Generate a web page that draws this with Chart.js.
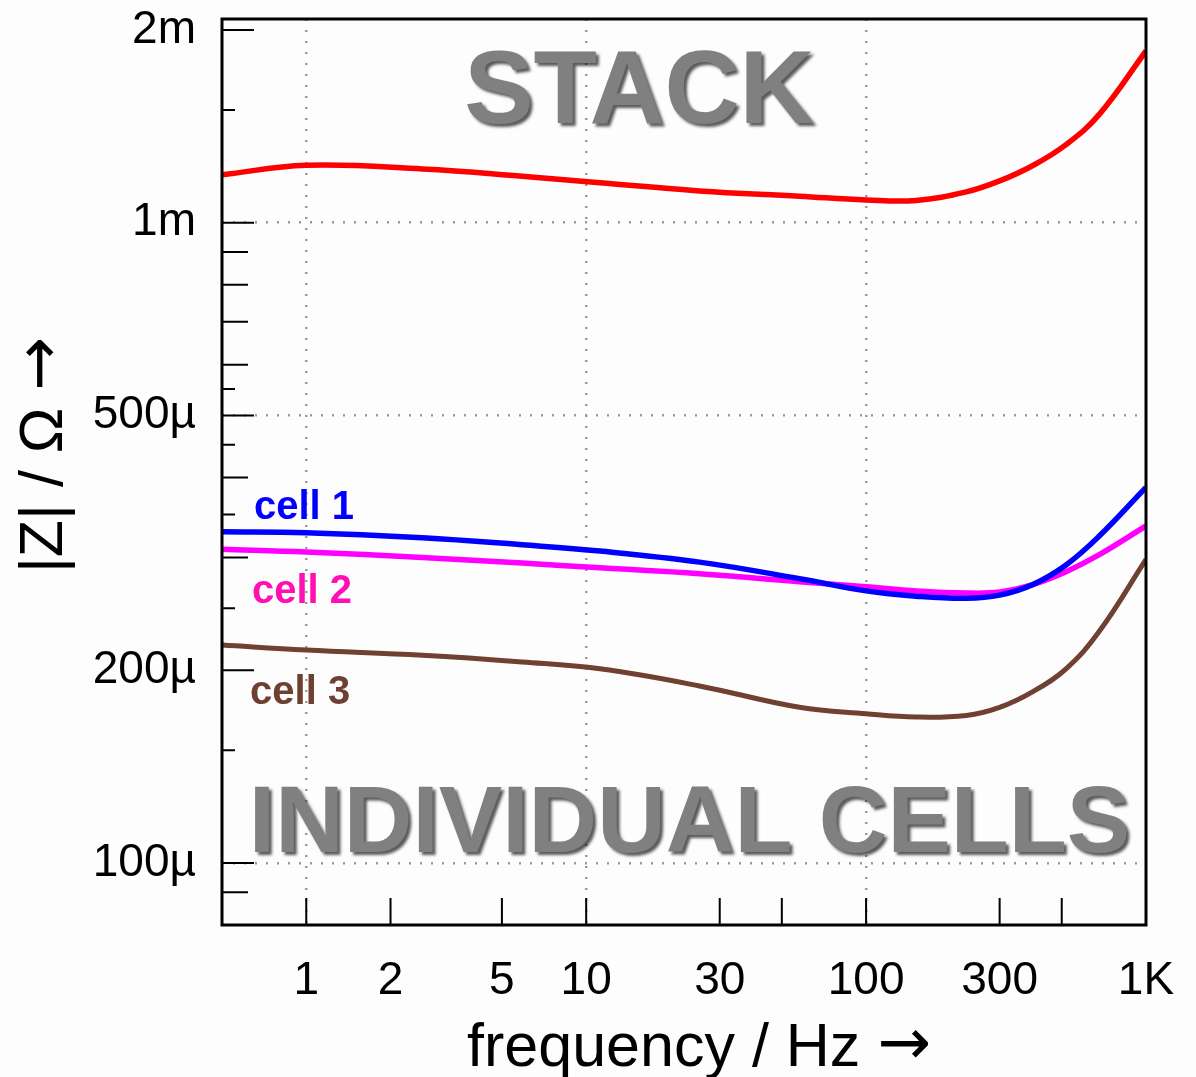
<!DOCTYPE html>
<html>
<head>
<meta charset="utf-8">
<script src="https://cdn.jsdelivr.net/npm/chart.js@4.4.1/dist/chart.umd.min.js"></script>
<style>
  html, body { margin: 0; padding: 0; background: #fdfdfd; }
  #wrap { width: 1196px; height: 1077px; position: relative; }
</style>
</head>
<body>
<div id="wrap"><canvas id="zChart"></canvas></div>
<script>
// frequencies (Hz) where the curves were read
const freqs = [0.5, 1, 2.6, 5.9, 11.2, 25.4, 57.8, 100, 151, 228, 300, 393, 518, 681, 1000]
// |Z| in ohm
const stack = [1.188e-3, 1.229e-3, 1.213e-3, 1.182e-3, 1.154e-3, 1.121e-3, 1.100e-3, 1.085e-3, 1.083e-3, 1.117e-3, 1.162e-3, 1.227e-3, 1.324e-3, 1.476e-3, 1.854e-3]
const cell1 = [329e-6, 328e-6, 322e-6, 314e-6, 307e-6, 295e-6, 278e-6, 266e-6, 261e-6, 259e-6, 262e-6, 272e-6, 292e-6, 324e-6, 386e-6]
const cell2 = [309e-6, 306e-6, 300e-6, 294e-6, 289e-6, 283e-6, 275e-6, 270e-6, 266e-6, 264e-6, 265e-6, 272e-6, 285e-6, 303e-6, 336e-6]
const cell3 = [219e-6, 215e-6, 211e-6, 206e-6, 201e-6, 189e-6, 175e-6, 171e-6, 169e-6, 170e-6, 175e-6, 185e-6, 201e-6, 230e-6, 298e-6]

// axis ticks
const xTicks = [1, 2, 5, 10, 30, 100, 300, 1000]
const xMarks = [1, 2, 5, 10, 30, 50, 100, 300, 500]
const xGrid = [1, 10, 100]
const yTicks = [2e-3, 1e-3, 5e-4, 2e-4, 1e-4]
const yMedium = [9e-4, 8e-4, 7e-4, 6e-4, 4e-4, 3e-4, 9e-5]
const yShort = [1.5e-3, 5.5e-4, 4.5e-4, 3.5e-4, 2.5e-4, 1.5e-4]
const yGrid = [1e-3, 5e-4, 1e-4]

const FONT = '"Liberation Sans", Arial, sans-serif'

// text placed on the plot, anchored in data units
const notes = [
    { text: 'STACK', f: 15.5, z: 1.433e-3, align: 'center', size: 104, color: '#808080', shadow: true },
    { text: 'INDIVIDUAL CELLS', f: 23.4, z: 1.04e-4, align: 'center', size: 95, color: '#808080', shadow: true },
    { text: 'cell 1', f: 0.65, z: 3.44e-4, align: 'left', size: 40, color: '#0000ff' },
    { text: 'cell 2', f: 0.64, z: 2.55e-4, align: 'left', size: 40, color: '#ff0fb4' },
    { text: 'cell 3', f: 0.63, z: 1.77e-4, align: 'left', size: 40, color: '#6e4032' }
]

function pts(vals){
    return freqs.map((f, i) => ({ x: f, y: vals[i] }))
}

function yLabel(v){
    if (v >= 1e-3) return Math.round(v * 1e3) + 'm'
    return Math.round(v * 1e6) + 'µ'
}

// text + long arrow, centred on (0, 0) of the current transform
function titleWithArrow(ctx, text){
    ctx.font = '61px ' + FONT
    const w1 = ctx.measureText(text).width
    ctx.font = '64px "DejaVu Sans"'
    const w2 = ctx.measureText('→').width
    const x0 = -(w1 + w2) / 2
    ctx.textAlign = 'left'
    ctx.font = '61px ' + FONT
    ctx.fillText(text, x0, 0)
    ctx.font = '64px "DejaVu Sans"'
    ctx.fillText('→', x0 + w1, -2)
}

const framePlugin = {
    id: 'framePlugin',
    afterDraw(chart){
        const ctx = chart.ctx
        const a = chart.chartArea
        const xs = chart.scales.x
        const ys = chart.scales.y

        // annotations
        notes.forEach(n => {
            ctx.save()
            ctx.font = 'bold ' + n.size + 'px ' + FONT
            ctx.textAlign = n.align
            ctx.textBaseline = 'alphabetic'
            if (n.shadow) {
                ctx.shadowColor = 'rgba(0,0,0,0.65)'
                ctx.shadowOffsetX = 3
                ctx.shadowOffsetY = 3
                ctx.shadowBlur = 3
            }
            ctx.fillStyle = n.color
            ctx.fillText(n.text, xs.getPixelForValue(n.f), ys.getPixelForValue(n.z))
            ctx.restore()
        })

        // inward tick marks
        ctx.save()
        ctx.strokeStyle = '#000'
        ctx.lineWidth = 2
        ctx.beginPath()
        xMarks.forEach(v => {
            const px = xs.getPixelForValue(v)
            ctx.moveTo(px, a.bottom)
            ctx.lineTo(px, a.bottom - 27)
        })
        const yMarks = [[yTicks, 32], [yMedium, 26], [yShort, 13]]
        yMarks.forEach(([vals, len]) => {
            vals.forEach(v => {
                const py = ys.getPixelForValue(v)
                ctx.moveTo(a.left, py)
                ctx.lineTo(a.left + len, py)
            })
        })
        ctx.stroke()

        // frame
        ctx.lineWidth = 3
        ctx.strokeRect(a.left, a.top, a.right - a.left, a.bottom - a.top)

        // axis titles
        ctx.fillStyle = '#000'
        ctx.textBaseline = 'alphabetic'
        ctx.save()
        ctx.translate(699, 1066)
        titleWithArrow(ctx, 'frequency / Hz ')
        ctx.restore()
        ctx.translate(62, 455)
        ctx.rotate(-Math.PI / 2)
        titleWithArrow(ctx, '|Z| / Ω ')
        ctx.restore()
    }
}

const ctx = document.getElementById('zChart').getContext('2d')
const zChart = new Chart(ctx, {
    type: 'line',
    data: {
        datasets: [
            { label: 'stack', data: pts(stack), borderColor: '#ff0000', borderWidth: 5.5 },
            { label: 'cell 1', data: pts(cell1), borderColor: '#0000ff', borderWidth: 5.5 },
            { label: 'cell 2', data: pts(cell2), borderColor: '#ff00ff', borderWidth: 5.5 },
            { label: 'cell 3', data: pts(cell3), borderColor: '#704030', borderWidth: 5 }
        ]
    },
    options: {
        responsive: true,
        maintainAspectRatio: false,
        animation: false,
        events: [],
        layout: { padding: { top: 19, right: 50, left: 0, bottom: 0 } },
        elements: {
            point: { radius: 0 },
            line: { tension: 0.4, fill: false }
        },
        plugins: {
            legend: { display: false },
            tooltip: { enabled: false }
        },
        scales: {
            x: {
                type: 'logarithmic',
                min: 0.5,
                max: 1000,
                afterFit: s => { s.height = 152; s.paddingLeft = 0; s.paddingRight = 0 },
                afterBuildTicks: s => { s.ticks = xTicks.map(v => ({ value: v })) },
                border: { display: false, dash: [2, 9] },
                grid: {
                    drawTicks: false,
                    lineWidth: 2.5,
                    color: c => xGrid.includes(c.tick && c.tick.value) ? '#9a9a9a' : 'rgba(0,0,0,0)'
                },
                ticks: {
                    autoSkip: false,
                    maxRotation: 0,
                    padding: 29,
                    color: '#000',
                    font: { family: FONT, size: 46 },
                    callback: v => v === 1000 ? '1K' : String(v)
                }
            },
            y: {
                type: 'logarithmic',
                min: 8e-5,
                max: 2.08e-3,
                afterFit: s => { s.width = 222; s.paddingTop = 0; s.paddingBottom = 0 },
                afterBuildTicks: s => { s.ticks = yTicks.map(v => ({ value: v })) },
                border: { display: false, dash: [2, 9] },
                grid: {
                    drawTicks: false,
                    lineWidth: 2.5,
                    color: c => yGrid.includes(c.tick && c.tick.value) ? '#9a9a9a' : 'rgba(0,0,0,0)'
                },
                ticks: {
                    autoSkip: false,
                    padding: 26,
                    color: '#000',
                    font: { family: FONT, size: 46 },
                    callback: v => yLabel(v)
                }
            }
        }
    },
    plugins: [framePlugin]
})
</script>
</body>
</html>
